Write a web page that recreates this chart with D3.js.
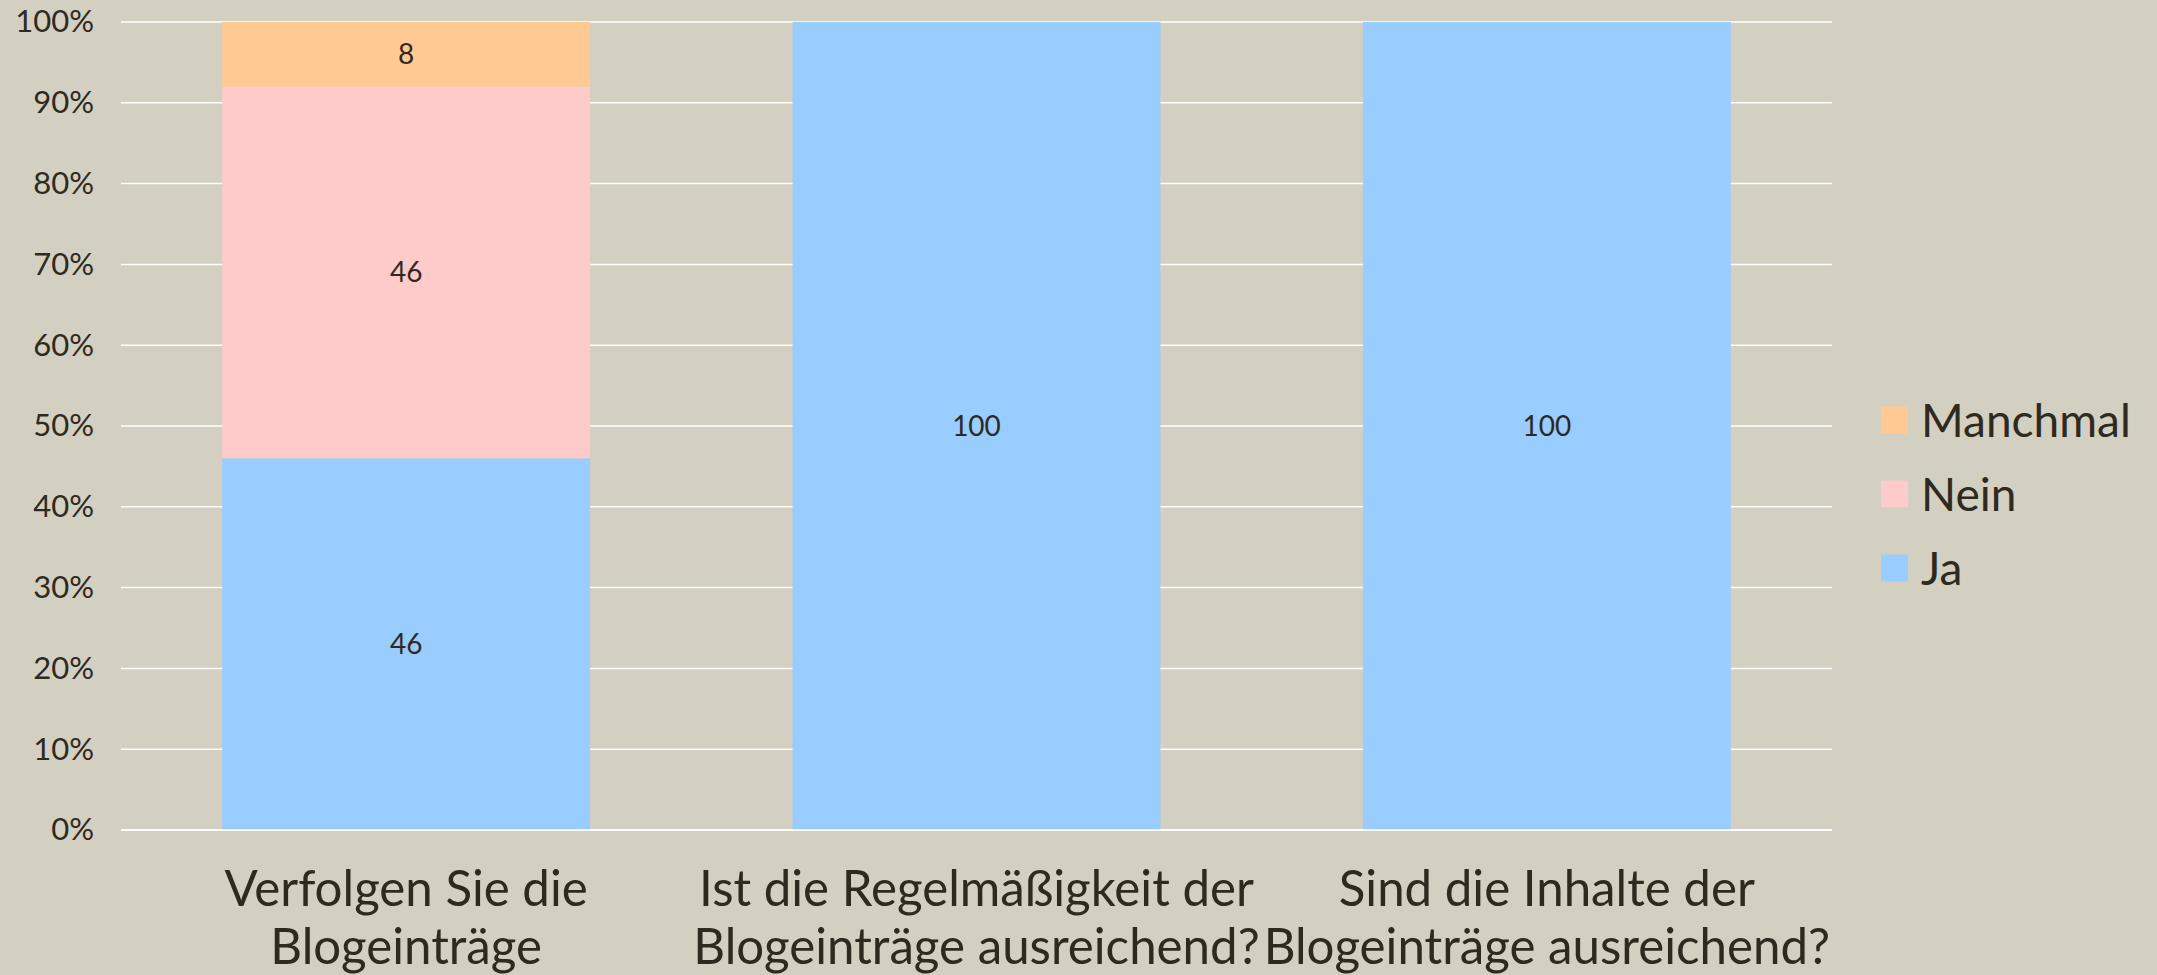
<!DOCTYPE html>
<html>
<head>
<meta charset="utf-8">
<script src="https://cdn.jsdelivr.net/npm/d3@7"></script>
<style>
  html, body { margin: 0; padding: 0; background: #d3cfc1; }
  svg { display: block; }
</style>
</head>
<body>
<svg id="chart" width="2157" height="975"></svg>
<script>
// data
const categories = [
  ['Verfolgen Sie die', 'Blogeinträge'],
  ['Ist die Regelmäßigkeit der', 'Blogeinträge ausreichend?'],
  ['Sind die Inhalte der', 'Blogeinträge ausreichend?']
];
const seriesNames = ['Ja', 'Nein', 'Manchmal'];
const ja = [46, 100, 100];
const nein = [46, 0, 0];
const manchmal = [8, 0, 0];
const yTicks = [0, 10, 20, 30, 40, 50, 60, 70, 80, 90, 100];

const colors = { Ja: '#99ccff', Nein: '#ffcaca', Manchmal: '#ffc994' };
const textColor = '#2e2a1f';

const svg = d3.select('#chart');
const W = 2157, H = 975;
const margin = { left: 121, right: W - 1832, top: 22, bottom: H - 830 };

const x = d3.scaleBand()
  .domain(d3.range(categories.length))
  .range([margin.left, W - margin.right])
  .paddingInner(0.355)
  .paddingOuter(0.1775);
const y = d3.scaleLinear()
  .domain([0, 100])
  .range([H - margin.bottom, margin.top]);

// table for stacking
const table = categories.map((c, i) => ({ i, Ja: ja[i], Nein: nein[i], Manchmal: manchmal[i] }));
const stacked = d3.stack().keys(seriesNames)(table);

// gridlines
svg.append('g')
  .selectAll('line')
  .data(yTicks)
  .enter()
  .append('line')
  .attr('x1', margin.left)
  .attr('x2', W - margin.right)
  .attr('y1', d => y(d))
  .attr('y2', d => y(d))
  .attr('stroke', '#ffffff')
  .attr('stroke-width', 1.5);

// y axis labels
const yAxis = svg.append('g')
  .attr('transform', `translate(${margin.left - 27},0)`)
  .call(d3.axisLeft(y).tickValues(yTicks).tickFormat(d => d + '%').tickSize(0).tickPadding(0));
yAxis.select('.domain').remove();
yAxis.selectAll('text')
  .attr('font-family', 'Lato, "Open Sans", sans-serif')
  .attr('font-size', 31)
  .attr('fill', textColor);

// bars
const layers = svg.append('g')
  .selectAll('g')
  .data(stacked)
  .enter()
  .append('g')
  .attr('fill', d => colors[d.key]);
layers.selectAll('rect')
  .data(d => d.filter(s => s[1] - s[0] > 0))
  .enter()
  .append('rect')
  .attr('x', d => x(d.data.i))
  .attr('width', x.bandwidth())
  .attr('y', d => y(d[1]))
  .attr('height', d => y(d[0]) - y(d[1]));

// data labels
layers.each(function (layer) {
  d3.select(this).selectAll('text')
    .data(layer.filter(s => s[1] - s[0] > 0))
    .enter()
    .append('text')
    .attr('x', d => x(d.data.i) + x.bandwidth() / 2)
    .attr('y', d => y((d[0] + d[1]) / 2))
    .attr('dy', '0.35em')
    .attr('text-anchor', 'middle')
    .attr('font-family', 'Lato, "Open Sans", sans-serif')
    .attr('font-size', 28)
    .attr('fill', textColor)
    .text(d => d[1] - d[0]);
});

// baseline on top
svg.append('line')
  .attr('x1', margin.left)
  .attr('x2', W - margin.right)
  .attr('y1', y(0))
  .attr('y2', y(0))
  .attr('stroke', '#ffffff')
  .attr('stroke-width', 1.5);

// category labels (slightly squeezed horizontally)
const squeeze = 0.985;
const cat = svg.append('g')
  .selectAll('text')
  .data(categories)
  .enter()
  .append('text')
  .attr('transform', (d, i) => `translate(${x(i) + x.bandwidth() / 2},0) scale(${squeeze},1)`)
  .attr('text-anchor', 'middle')
  .attr('font-family', 'Lato, "Open Sans", sans-serif')
  .attr('font-size', 50)
  .attr('fill', textColor);
cat.selectAll('tspan')
  .data(d => d)
  .enter()
  .append('tspan')
  .attr('x', 0)
  .attr('y', (d, j) => 906 + j * 58)
  .text(d => d);

// legend
const legend = svg.append('g')
  .attr('transform', 'translate(1881,0)')
  .selectAll('g')
  .data(seriesNames.slice().reverse())
  .enter()
  .append('g')
  .attr('transform', (d, i) => `translate(0,${420 + i * 74})`);
legend.append('rect')
  .attr('x', 0)
  .attr('y', -13.5)
  .attr('width', 27)
  .attr('height', 27)
  .attr('fill', d => colors[d]);
legend.append('text')
  .attr('x', 40)
  .attr('y', 0)
  .attr('dy', '0.36em')
  .attr('font-family', 'Lato, "Open Sans", sans-serif')
  .attr('font-size', 46)
  .attr('fill', textColor)
  .text(d => d);
</script>
</body>
</html>
